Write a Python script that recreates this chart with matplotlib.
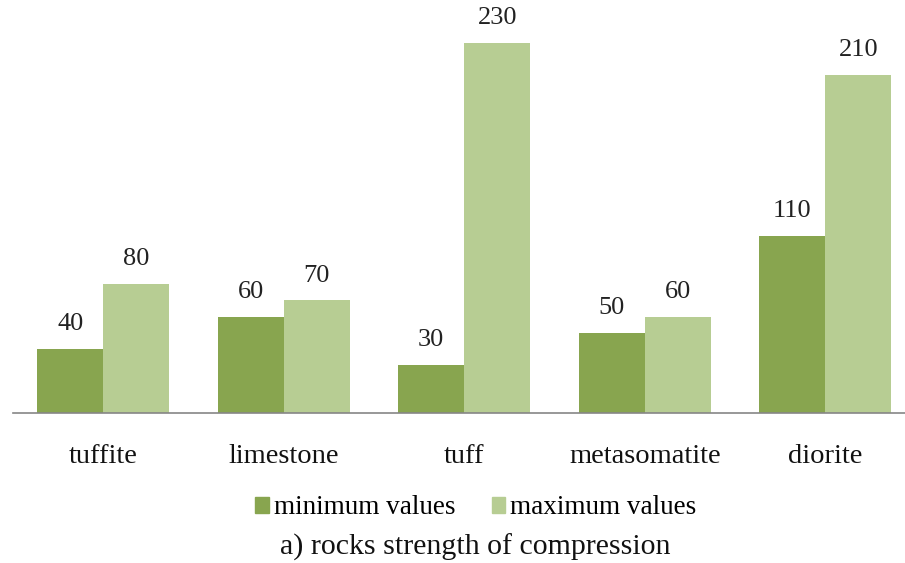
import numpy as np
import matplotlib.pyplot as plt
from matplotlib.patches import Patch

# rock types and compressive strength range
rocks = ['tuffite', 'limestone', 'tuff', 'metasomatite', 'diorite']
min_vals = [40, 60, 30, 50, 110]
max_vals = [80, 70, 230, 60, 210]

c_min = '#88a54f'
c_max = '#b7cd93'

plt.rcParams['font.family'] = ['Liberation Serif', 'DejaVu Serif']

fig = plt.figure(figsize=(9.05, 5.63), dpi=100)
ax = fig.add_axes([13/905, 150/563, 902.5/905, 402/563])

x = np.arange(len(rocks))
w = 0.366
b1 = ax.bar(x - w/2, min_vals, w, color=c_min)
b2 = ax.bar(x + w/2, max_vals, w, color=c_max)

for bars, vals in ((b1, min_vals), (b2, max_vals)):
    for r, v in zip(bars, vals):
        ax.annotate(str(v), (r.get_x() + r.get_width()/2, v), xytext=(0, 10),
                    textcoords='offset points', ha='center', va='bottom',
                    fontsize=19, color='#222222')

ax.set_xlim(-0.5, 4.5)
ax.set_ylim(0, 250)
ax.set_xticks(x)
ax.set_xticklabels(rocks, fontsize=20.5, color='#111111')
ax.tick_params(axis='x', length=0, pad=22)
ax.set_yticks([])
for s in ['top', 'right', 'left']:
    ax.spines[s].set_visible(False)
ax.spines['bottom'].set_color('#868686')
ax.spines['bottom'].set_linewidth(1.2)

handles = [Patch(color=c_min, label='minimum values'),
           Patch(color=c_max, label='maximum values')]
fig.legend(handles=handles, loc='center', bbox_to_anchor=(476/905, 1 - 508/563),
           ncol=2, frameon=False, fontsize=19.5, handlelength=0.5,
           handleheight=0.5, handletextpad=0.18, columnspacing=1.35)
fig.text(475/905, 1 - 547/563, 'a) rocks strength of compression',
         ha='center', va='center', fontsize=21.5, color='#111111')

fig.savefig('out.png', dpi=100)
